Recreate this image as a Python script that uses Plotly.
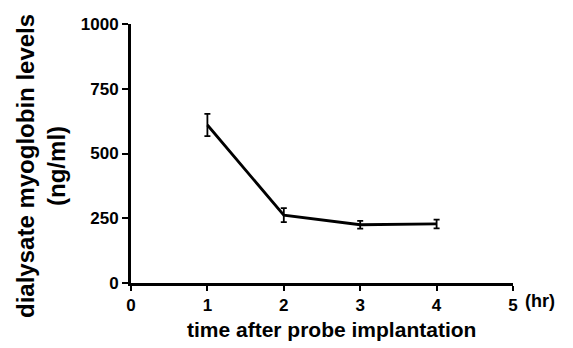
import plotly.graph_objects as go

hours = [1, 2, 3, 4]
myoglobin = [610, 262, 225, 228]
sem = [43, 27, 15, 17]
x_ticks = [0, 1, 2, 3, 4, 5]
y_ticks = [0, 250, 500, 750, 1000]

FONT = "Arial, Liberation Sans, sans-serif"

fig = go.Figure()
fig.add_trace(go.Scatter(
    x=hours, y=myoglobin,
    mode="lines",
    line=dict(color="black", width=2.8),
    error_y=dict(type="data", array=sem, visible=True, color="black", thickness=1.8, width=3),
    showlegend=False,
))

fig.update_layout(
    width=573, height=348,
    margin=dict(l=131, r=60, t=24, b=65),
    paper_bgcolor="white", plot_bgcolor="white",
    font=dict(family=FONT, color="black"),
    xaxis=dict(range=[0, 5], tickvals=x_ticks, ticktext=[str(v) for v in x_ticks],
               showgrid=False, zeroline=False, showline=True, linecolor="black", linewidth=3,
               ticks="outside", ticklen=5, tickwidth=2, tickcolor="black",
               tickfont=dict(size=17, family=FONT, weight="bold")),
    yaxis=dict(range=[0, 1000], tickvals=y_ticks, ticktext=[str(v) for v in y_ticks],
               showgrid=False, zeroline=False, showline=True, linecolor="black", linewidth=3,
               ticks="outside", ticklen=6, tickwidth=2, tickcolor="black",
               tickfont=dict(size=17, family=FONT, weight="bold")),
    annotations=[
        dict(text="<b>dialysate myoglobin levels<br>(ng/ml)</b>", textangle=-90,
             xref="paper", yref="paper", x=(41 - 131) / 382, y=(283 - 166) / 259,
             xanchor="center", yanchor="middle", showarrow=False,
             font=dict(size=24, family=FONT)),
        dict(text="<b>time after probe implantation</b>",
             xref="paper", yref="paper", x=(331 - 131) / 382, y=(283 - 329) / 259,
             xanchor="center", yanchor="middle", showarrow=False,
             font=dict(size=21, family=FONT)),
        dict(text="<b>(hr)</b>",
             xref="paper", yref="paper", x=(540 - 131) / 382, y=(283 - 301) / 259,
             xanchor="center", yanchor="middle", showarrow=False,
             font=dict(size=18, family=FONT)),
    ],
)

fig.write_html("out.html")
